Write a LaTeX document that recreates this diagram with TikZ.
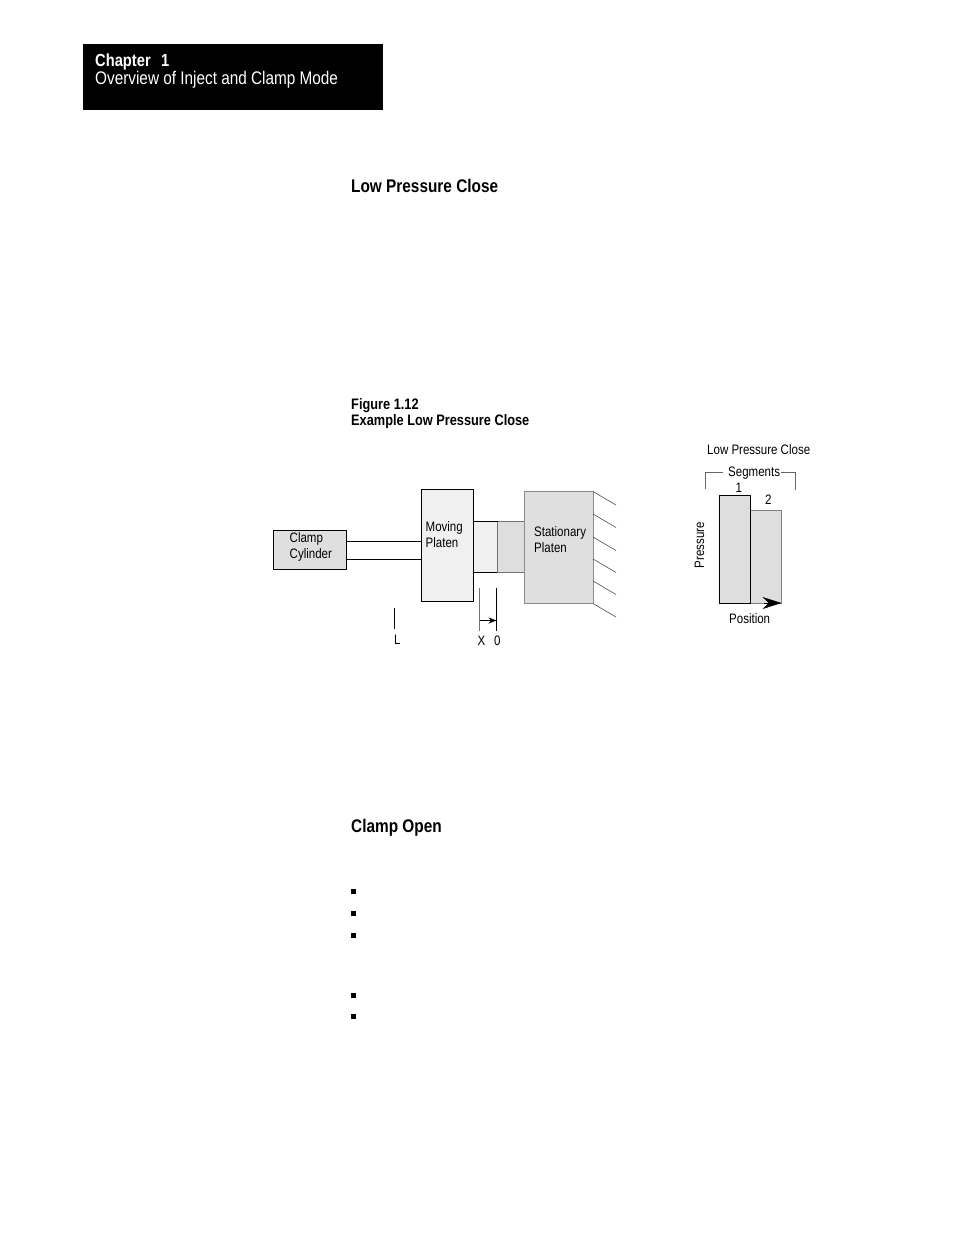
\documentclass[tikz,border=0pt]{standalone}
\usepackage{fontspec}
\setmainfont[FakeStretch=0.84]{Liberation Sans}
\usetikzlibrary{arrows.meta}
\definecolor{fillA}{gray}{0.875}
\definecolor{fillB}{gray}{0.94}
\definecolor{fillC}{gray}{0.87}
\tikzset{
 x=1pt,y=-1pt,
 box/.style={draw=black,line width=1.1pt,anchor=north west,inner sep=0pt,outer sep=0pt},
 greybox/.style={draw=black!45,line width=1.1pt,anchor=north west,inner sep=0pt,outer sep=0pt},
 lab/.style={font=\fontsize{13.7}{15.5}\selectfont,inner sep=0pt,anchor=west,align=left},
 head/.style={font=\fontsize{18.3}{20}\selectfont\bfseries,inner sep=0pt,anchor=west},
 fig/.style={font=\fontsize{15.2}{16}\selectfont\bfseries,inner sep=0pt,anchor=west},
 thin line/.style={line width=1pt},
 hatch/.style={draw=black!70,line width=0.6pt},
 bullet/.style={fill=black,inner sep=0pt,minimum width=5pt,minimum height=5pt},
}
\begin{document}
\begin{tikzpicture}
\useasboundingbox (0,0) rectangle (954,1235);
% chapter banner
\node[fill=black,anchor=north west,inner sep=0pt,minimum width=300pt,minimum height=66pt] (banner) at (83,44) {};
\node[font=\fontsize{17.5}{20}\selectfont\bfseries,text=white,inner sep=0pt,anchor=west] (chap) at (95,61.5) {Chapter\hspace{0.6em}1};
\node[font=\fontsize{18.25}{20}\selectfont,text=white,inner sep=0pt,anchor=west] (ovw) at (95,80) {Overview of Inject and Clamp Mode};
% headings
\node[head] (h1) at (351,185.5) {Low Pressure Close};
\node[fig] (f1) at (351,406) {Figure 1.12};
\node[fig] (f2) at (351,422) {Example Low Pressure Close};
\node[head] (h2) at (351,828) {Clamp Open};
% bullets
\node[bullet] (b1) at (353.5,891) {};
\node[bullet] (b2) at (353.5,913) {};
\node[bullet] (b3) at (353.5,935) {};
\node[bullet] (b4) at (353.5,995.5) {};
\node[bullet] (b5) at (353.5,1016.5) {};
% machine
\node[box,fill=fillA,minimum width=73pt,minimum height=39pt] (cyl) at (273.5,530.5) {};
\node[box,fill=fillB,minimum width=52pt,minimum height=112pt] (mov) at (421.5,489.5) {};
\node[greybox,fill=fillA,minimum width=69pt,minimum height=112pt] (sta) at (524.5,491.5) {};
\coordinate (rodAa) at (cyl.east |- 0,541.5);
\coordinate (rodAb) at (mov.west |- 0,541.5);
\coordinate (rodBa) at (cyl.east |- 0,559.5);
\coordinate (rodBb) at (mov.west |- 0,559.5);
\draw[thin line] (rodAa) -- (rodAb);
\draw[thin line] (rodBa) -- (rodBb);
% mould halves
\fill[fillB] (473.5,521.5) rectangle (497.5,572.5);
\fill[fillC] (497.5,521.5) rectangle (524,572.5);
\draw[thin line] (473.5,521.5) -- (497.5,521.5);
\draw[thin line] (473.5,572.5) -- (497.5,572.5);
\draw[draw=black!55,thin line] (497.5,521.5) -- (524,521.5);
\draw[draw=black!55,thin line] (497.5,572.5) -- (524,572.5);
\draw[draw=black!55,thin line] (497.5,521.5) -- (497.5,572.5);
% wall hatching
\foreach \n/\y in {a/491.5,b/514,c/537,d/559,e/581,f/603.5}{
 \coordinate (w\n) at (593,\y);
 \coordinate (v\n) at (616,\y+13.5);
 \draw[hatch] (w\n) -- (v\n);
}
% markers
\coordinate (La) at (394.5,608);
\coordinate (Lb) at (394.5,629);
\draw[line width=0.8pt] (La) -- (Lb);
\node[lab] (L) at (394,639.5) {L};
\coordinate (Xa) at (479.5,588);
\coordinate (Xb) at (479.5,631);
\coordinate (Za) at (496.5,588);
\coordinate (Zb) at (496.5,631);
\draw[draw=black!55,line width=0.8pt] (Xa) -- (Xb);
\draw[line width=0.9pt] (Za) -- (Zb);
\coordinate (Xm) at (479.5,620.5);
\coordinate (Zm) at (496.5,620.5);
\draw[line width=0.7pt,-{Stealth[length=8pt,width=6pt]}] (Xm) -- (Zm);
\node[lab] (X) at (477.5,640.5) {X};
\node[lab] (Z) at (494,640.5) {0};
% box labels
\node[lab] (t1) at (289.5,547) {Clamp\\\hspace{0pt}Cylinder};
\node[lab] (t2) at (425.5,534.5) {Moving\\Platen};
\node[lab] (t3) at (534,539.5) {Stationary\\Platen};
% chart
\node[lab] (c0) at (707,449.5) {Low Pressure Close};
\node[lab] (c1) at (728,473.5) {Segments};
\coordinate (sa) at (705.5,489);
\coordinate (sb) at (705.5,472.5);
\coordinate (sc) at (723,472.5);
\coordinate (sd) at (781,472.5);
\coordinate (se) at (795.5,472.5);
\coordinate (sf) at (795.5,490);
\draw[draw=black!60,line width=0.7pt] (sa) -- (sb) -- (sc);
\draw[draw=black!60,line width=0.7pt] (sd) -- (se) -- (sf);
\node[box,fill=fillC,minimum width=31pt,minimum height=108pt] (seg1) at (719.5,495.5) {};
\node[greybox,fill=fillC,draw=none,minimum width=31pt,minimum height=93pt] (seg2) at (750.5,510) {};
\draw[draw=black!50,line width=1pt] (seg2.north west) -- (seg2.north east) -- (seg2.south east) -- (seg2.south west);
\coordinate (pa) at (764,603);
\draw[-{Stealth[length=19pt,width=12pt]},line width=0.5pt] (pa) -- (seg2.south east);
\node[lab] (n1) at (735.5,488) {1};
\node[lab] (n2) at (765,500) {2};
\node[lab,rotate=90,anchor=center] (py) at (699.5,545) {Pressure};
\node[lab] (px) at (729,619) {Position};
\end{tikzpicture}
\end{document}
